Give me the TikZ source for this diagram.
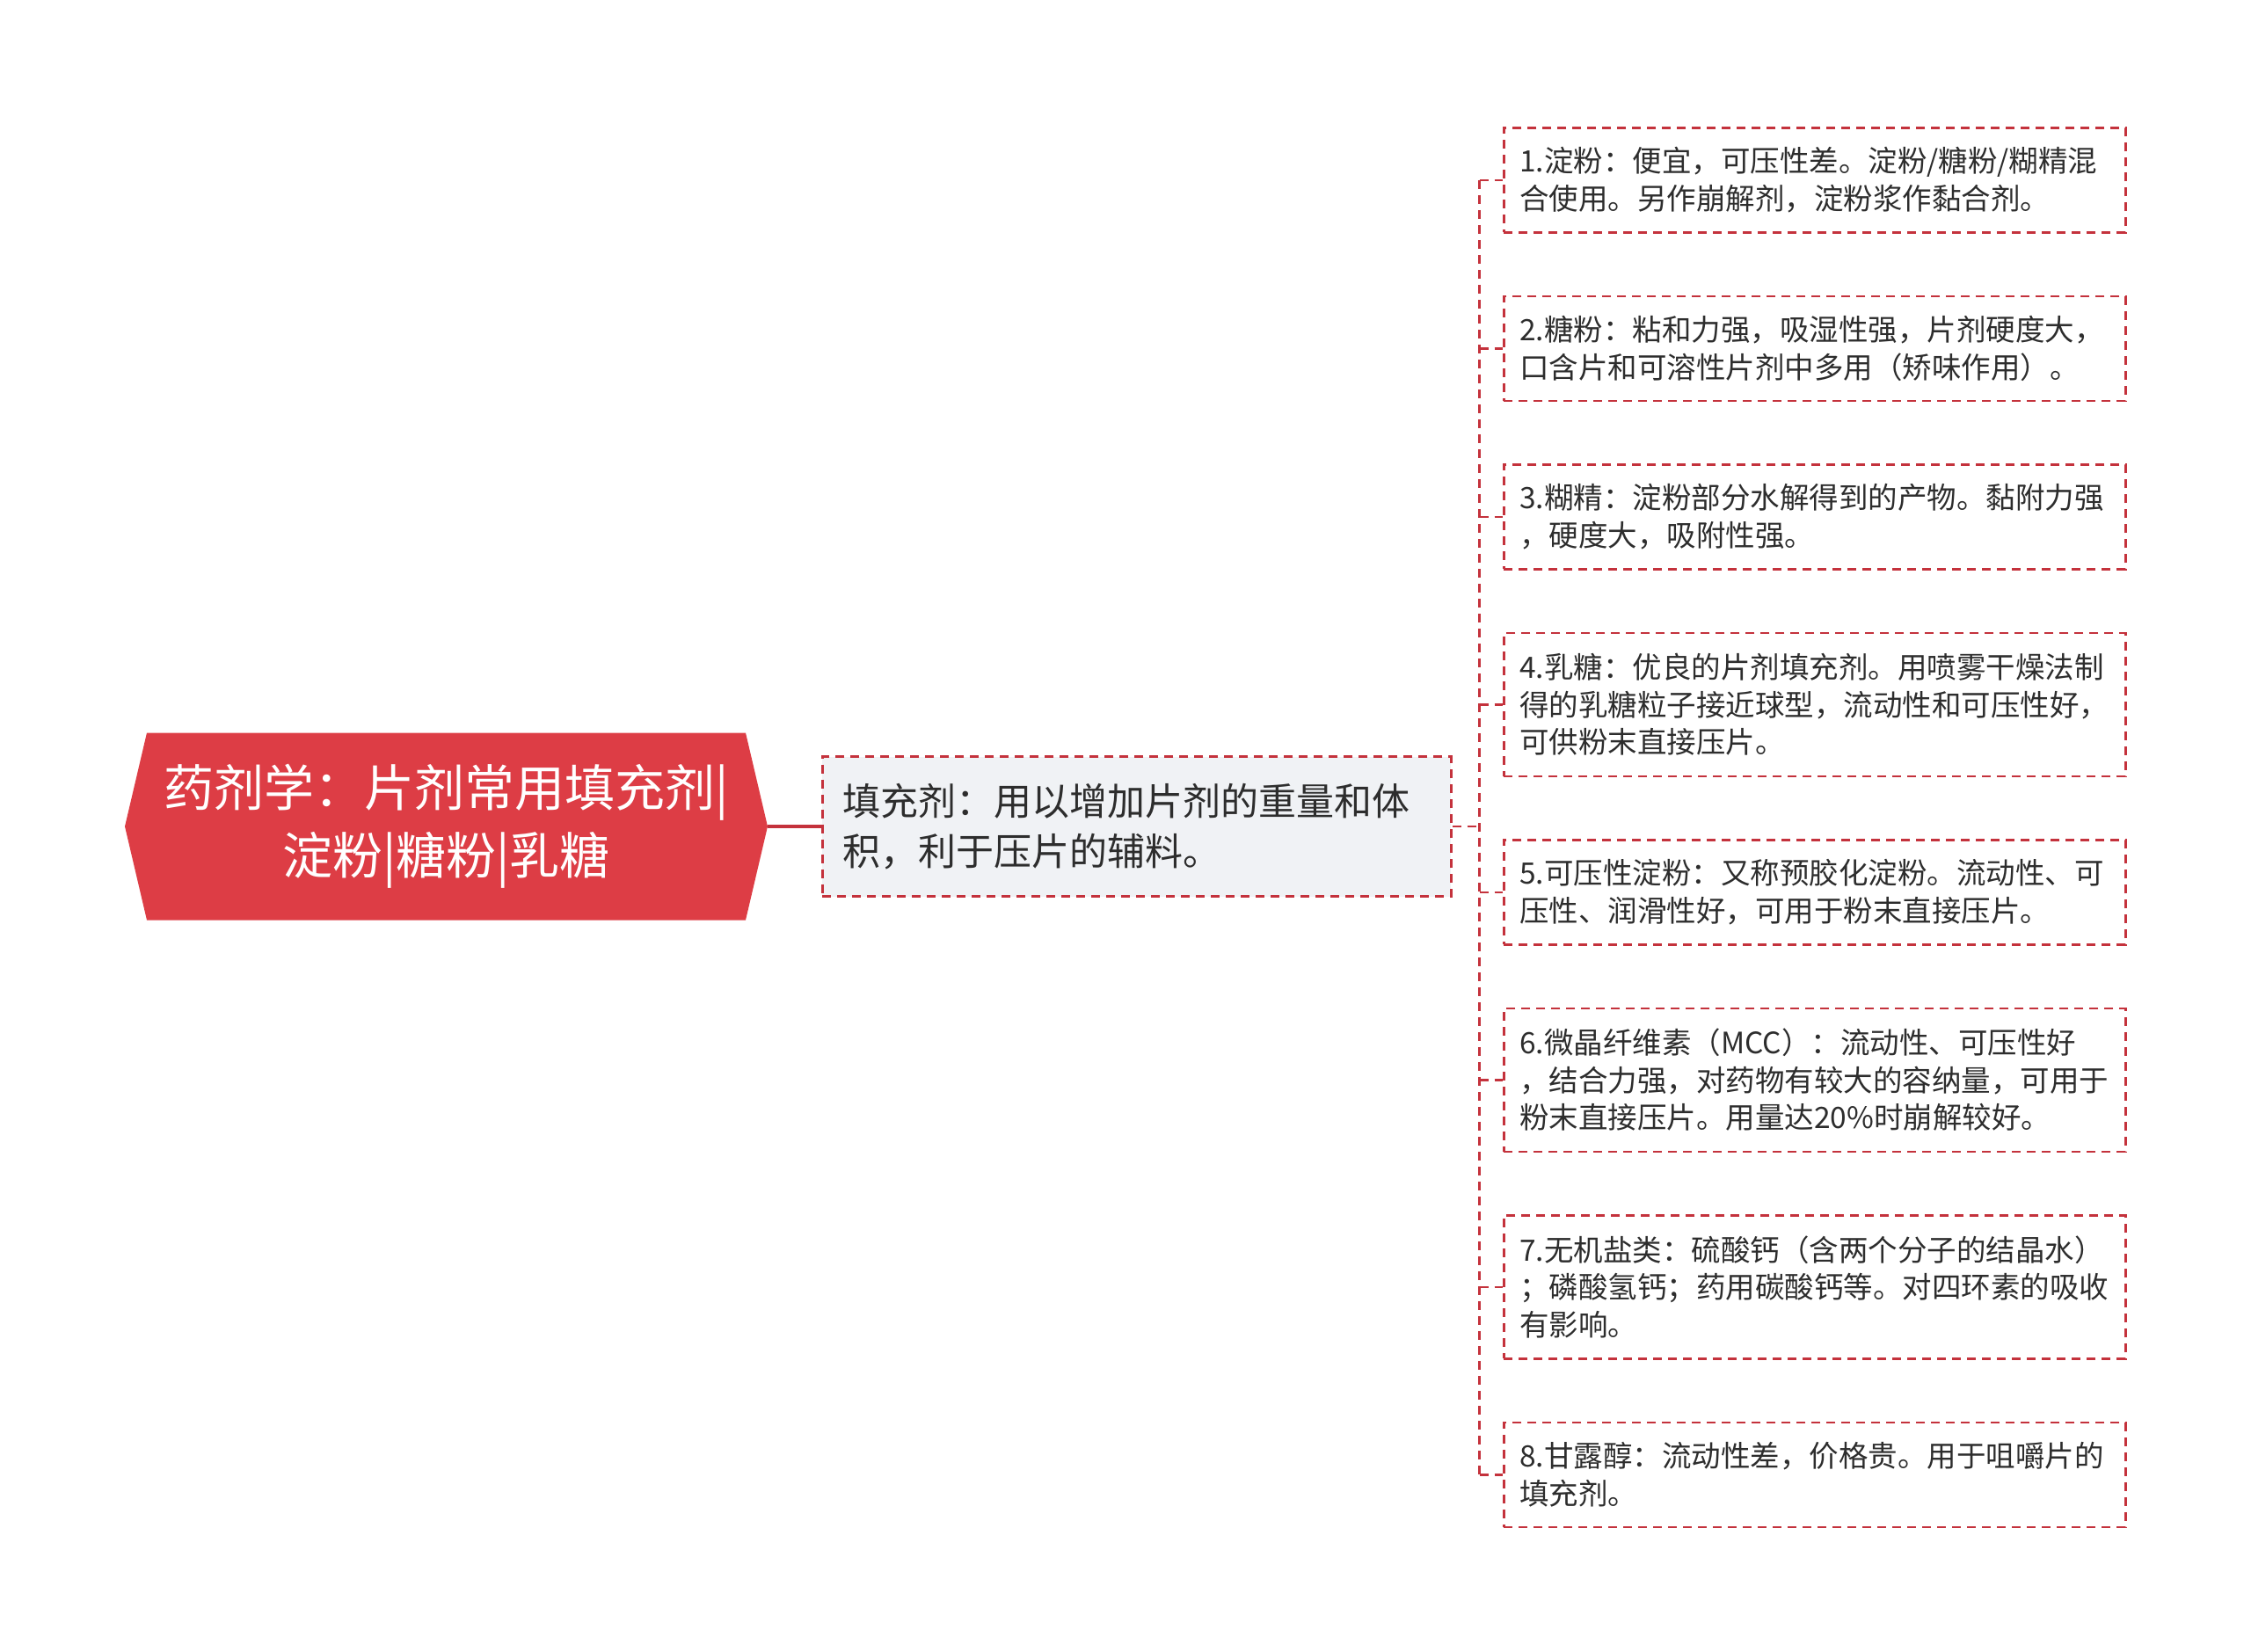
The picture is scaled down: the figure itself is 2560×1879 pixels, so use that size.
\documentclass[tikz,border=0pt]{standalone}
\usepackage{fontspec}
\setmainfont{Noto Sans CJK SC}
\usetikzlibrary{positioning}
\definecolor{rootred}{RGB}{221,61,69}
\definecolor{linered}{RGB}{196,50,60}
\definecolor{fillgray}{RGB}{240,242,245}
\definecolor{textgray}{RGB}{45,45,45}

\begin{document}
\begin{tikzpicture}[x=1pt, y=1pt, node distance=70pt,
    rootbox/.style={rectangle, text=white, minimum width=731pt, minimum height=213pt, inner sep=0pt,
        align=center, font=\fontsize{57}{77}\selectfont,
        path picture={\fill [rootred] (path picture bounding box.west)
            -- ([xshift=25pt]path picture bounding box.north west) -- ([xshift=-25pt]path picture bounding box.north east)
            -- (path picture bounding box.east) -- ([xshift=-25pt]path picture bounding box.south east)
            -- ([xshift=25pt]path picture bounding box.south west) -- cycle;}},
    fillbox/.style={rectangle, draw=linered, line width=2.5pt, dash pattern=on 10pt off 7pt, fill=fillgray,
        text=textgray, text width=669pt, inner xsep=23pt, minimum height=159pt, align=left, font=\fontsize{43}{57}\selectfont},
    leafbox/.style={rectangle, draw=linered, line width=2.5pt, dash pattern=on 10pt off 7pt, text=textgray,
        text width=671pt, inner xsep=18pt, inner ysep=0pt, minimum height=119pt, align=left, font=\fontsize{33.5}{42.5}\selectfont},
    tallbox/.style={leafbox, minimum height=163pt},
    link/.style={draw=linered, line width=2.5pt, dash pattern=on 10pt off 7pt}]
    \useasboundingbox (0,0) rectangle (2560,-1879);

    % Root topic
    \node [rootbox] (root) at (507.5,-940) {药剂学：片剂常用填充剂|\\淀粉|糖粉|乳糖};

    % Main branch
    \node [fillbox, right=61pt of root] (fill) {填充剂：用以增加片剂的重量和体\\积，利于压片的辅料。};

    % Fillers
    \node [leafbox, anchor=north west] (starch) at (1709,-144) {1.淀粉：便宜，可压性差。淀粉/糖粉/糊精混\\合使用。另作崩解剂，淀粉浆作黏合剂。};
    \node [leafbox, below=of starch] (sugar) {2.糖粉：粘和力强，吸湿性强，片剂硬度大，\\口含片和可溶性片剂中多用（矫味作用）。};
    \node [leafbox, below=of sugar] (dextrin) {3.糊精：淀粉部分水解得到的产物。黏附力强\\，硬度大，吸附性强。};
    \node [tallbox, below=of dextrin] (lactose) {4.乳糖：优良的片剂填充剂。用喷雾干燥法制\\得的乳糖粒子接近球型，流动性和可压性好，\\可供粉末直接压片。};
    \node [leafbox, below=of lactose] (pregel) {5.可压性淀粉：又称预胶化淀粉。流动性、可\\压性、润滑性好，可用于粉末直接压片。};
    \node [tallbox, below=of pregel] (mcc) {6.微晶纤维素（MCC）：流动性、可压性好\\，结合力强，对药物有较大的容纳量，可用于\\粉末直接压片。用量达20\%时崩解较好。};
    \node [tallbox, below=of mcc] (salts) {7.无机盐类：硫酸钙（含两个分子的结晶水）\\；磷酸氢钙；药用碳酸钙等。对四环素的吸收\\有影响。};
    \node [leafbox, below=of salts] (mannitol) {8.甘露醇：流动性差，价格贵。用于咀嚼片的\\填充剂。};

    % Connectors
    \draw [linered, line width=3.5pt] (root.east) -- (fill.west);
    \coordinate [right=31pt of fill.east] (hub);
    \draw [link] (fill.east) -- (hub);
    \draw [link] (hub |- starch.west) -- (hub |- mannitol.west);
    \draw [link] (hub |- starch.west) -- (starch.west);
    \draw [link] (hub |- sugar.west) -- (sugar.west);
    \draw [link] (hub |- dextrin.west) -- (dextrin.west);
    \draw [link] (hub |- lactose.west) -- (lactose.west);
    \draw [link] (hub |- pregel.west) -- (pregel.west);
    \draw [link] (hub |- mcc.west) -- (mcc.west);
    \draw [link] (hub |- salts.west) -- (salts.west);
    \draw [link] (hub |- mannitol.west) -- (mannitol.west);

\end{tikzpicture}
\end{document}
